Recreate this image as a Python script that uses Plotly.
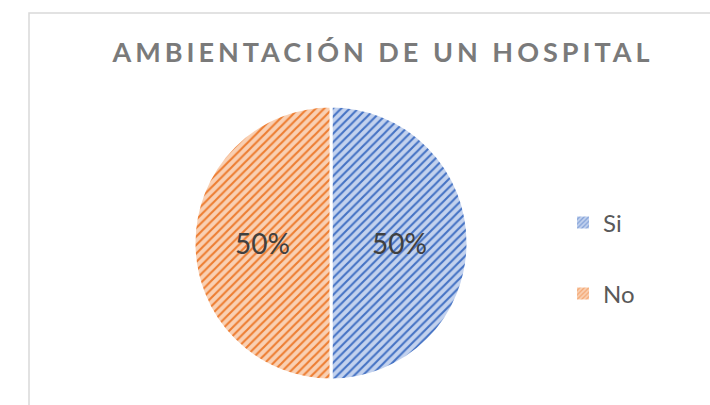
import plotly.graph_objects as go

# Survey answers for the hospital-ambience question
labels = ["Si", "No"]
values = [50, 50]

fill_colors = ["#c3d2ee", "#f9d0b3"]
stripe_colors = ["#4472C4", "#ED7D31"]

W, H = 710, 405

fig = go.Figure()

fig.add_trace(go.Pie(
    labels=labels,
    values=values,
    sort=False,
    direction="clockwise",
    rotation=0,
    showlegend=False,
    texttemplate="%{percent:.0%}",
    textposition="inside",
    insidetextorientation="horizontal",
    textfont=dict(family="Lato", size=28, color="#404040"),
    marker=dict(
        colors=fill_colors,
        line=dict(color="white", width=3),
        pattern=dict(shape="/", fgcolor=stripe_colors, bgcolor=fill_colors,
                     size=6, solidity=0.35, fillmode="replace"),
    ),
    domain=dict(x=[194 / W, 468 / W], y=[(162 - 137) / H, (162 + 137) / H]),
    hoverinfo="label+percent",
))

# Legend entries, one legend per label so they can be spaced apart
legend_ids = ["legend", "legend2"]
for lab, fc, sc, lg in zip(labels, fill_colors, stripe_colors, legend_ids):
    fig.add_trace(go.Bar(
        x=[None], y=[None], name=lab, legend=lg, showlegend=True,
        marker=dict(color=fc, line=dict(width=0),
                    pattern=dict(shape="/", fgcolor=sc, bgcolor=fc, size=4,
                                 solidity=0.4)),
        hoverinfo="skip",
    ))

legend_style = dict(
    font=dict(family="Lato", size=24, color="#595959"),
    bgcolor="rgba(0,0,0,0)",
    xanchor="left", yanchor="middle",
    x=563 / W,
)

fig.update_layout(
    width=W, height=H,
    margin=dict(l=0, r=0, t=0, b=0),
    paper_bgcolor="white",
    plot_bgcolor="white",
    xaxis=dict(visible=False),
    yaxis=dict(visible=False),
    title=dict(
        text="AMBIENTACIÓN DE UN HOSPITAL",
        x=383 / W, xanchor="center",
        y=1 - 53 / H, yanchor="middle",
        font=dict(family="Lato", size=27, color="#7a7a7a", weight="bold"),
    ),
    legend=dict(**legend_style, y=1 - 223 / H),
    legend2=dict(**legend_style, y=1 - 294 / H),
    shapes=[dict(
        type="rect", xref="paper", yref="paper",
        x0=29 / W, x1=1.05, y0=-0.05, y1=1 - 13 / H,
        line=dict(color="#d9d9d9", width=1.5), fillcolor="rgba(0,0,0,0)",
        layer="below",
    )],
)

fig.write_html(
    "out.html",
    post_script="document.querySelectorAll('.gtitle').forEach(function(e){e.style.letterSpacing='4px';});",
)
